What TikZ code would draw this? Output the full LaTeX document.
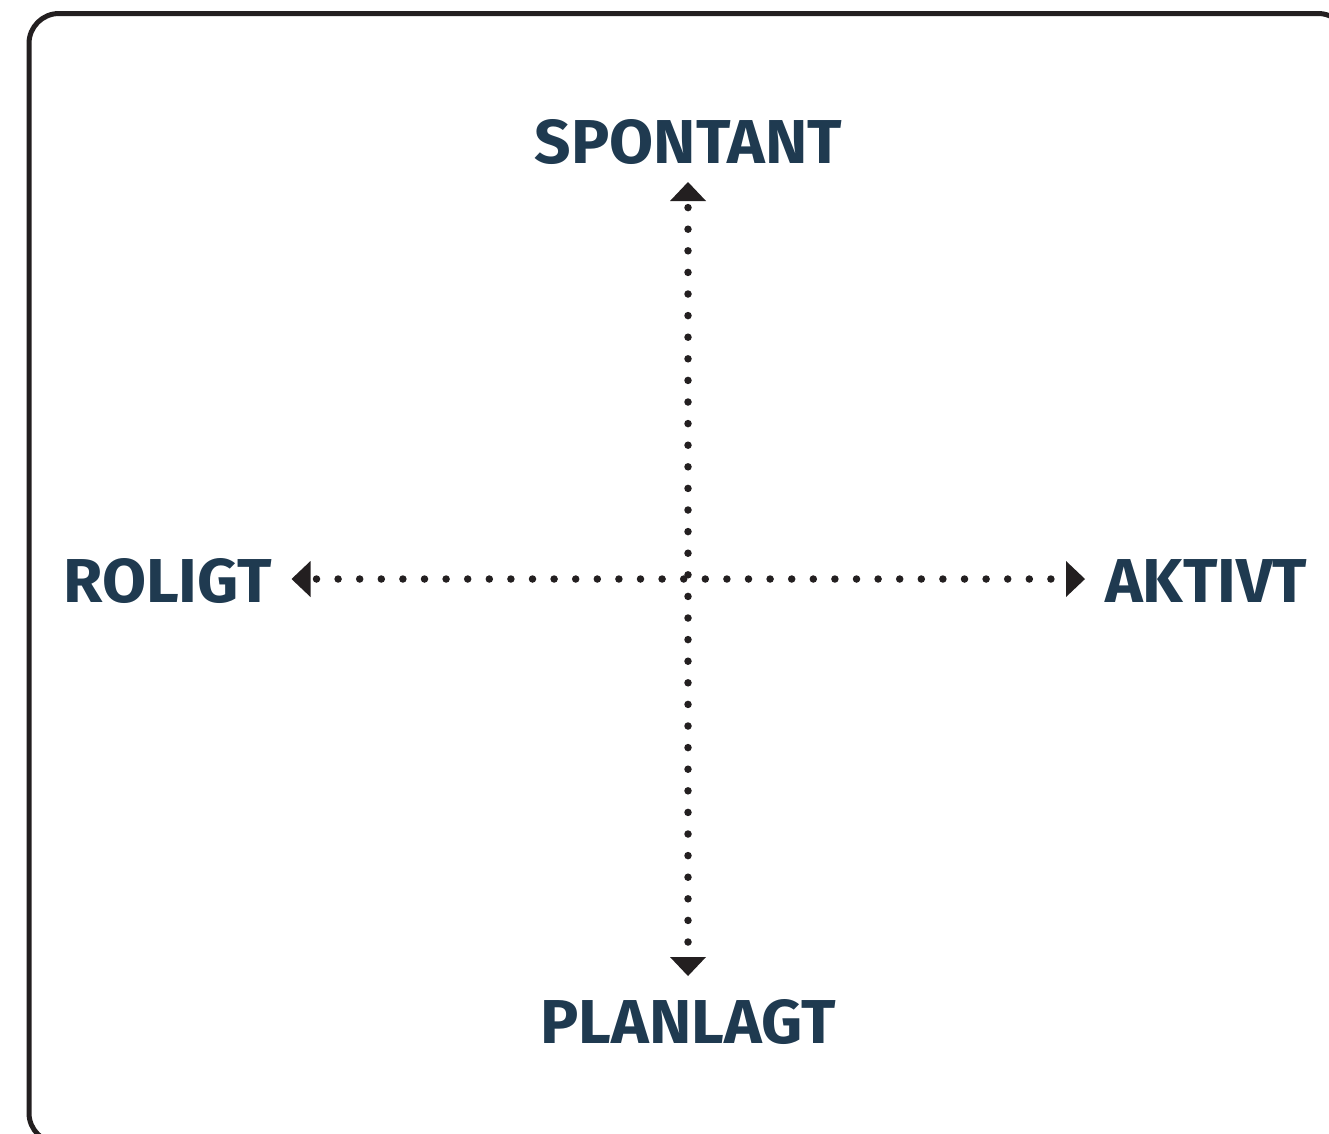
\documentclass[tikz,border=0pt]{standalone}
\usepackage{fontspec}
\setmainfont{Fira Sans}
\newfontfamily\labelfont[FakeStretch=1.03]{Fira Sans}
\usetikzlibrary{arrows.meta}
\definecolor{labelblue}{HTML}{1F3A50}
\definecolor{inkdark}{HTML}{231F20}
\tikzset{
  axislabel/.style={font=\labelfont\fontsize{62}{62}\selectfont\bfseries, text=labelblue, inner sep=0pt},
  axisline/.style={draw=inkdark, line width=7.5pt, line cap=round,
    dash pattern=on 0pt off 21.6pt,
    arrows={Triangle[length=19pt,width=36pt,line width=0pt]-Triangle[length=19pt,width=36pt,line width=0pt]},
    color=inkdark},
  frame/.style={draw=inkdark, line width=5pt, rounded corners=30pt}
}
\begin{document}
\begin{tikzpicture}[x=1pt,y=-1pt]
\useasboundingbox (0,0) rectangle (1329,1133);
\begin{scope}
\clip (0,0) rectangle (1329,1133);
\draw[frame] (29,13.5) rectangle (1348,1143);
\end{scope}
% labels
\node[axislabel, anchor=base] (spontant) at (688.5,163) {SPONTANT};
\node[axislabel, anchor=base] (planlagt) at (688,1043) {PLANLAGT};
\node[axislabel, anchor=base east] (roligt) at (272,602) {ROLIGT};
\node[axislabel, anchor=base west] (aktivt) at (1105,602) {AKTIVT};
% arrow tip coordinates
\coordinate (topTip) at (688,182);
\coordinate (bottomTip) at (688,976);
\coordinate (leftTip) at (291.5,579);
\coordinate (rightTip) at (1085,579);
% axes
\draw[axisline, dash phase=15.6pt] (leftTip) -- (rightTip);
\draw[axisline, dash phase=15pt] (topTip) -- (bottomTip);
\end{tikzpicture}
\end{document}
